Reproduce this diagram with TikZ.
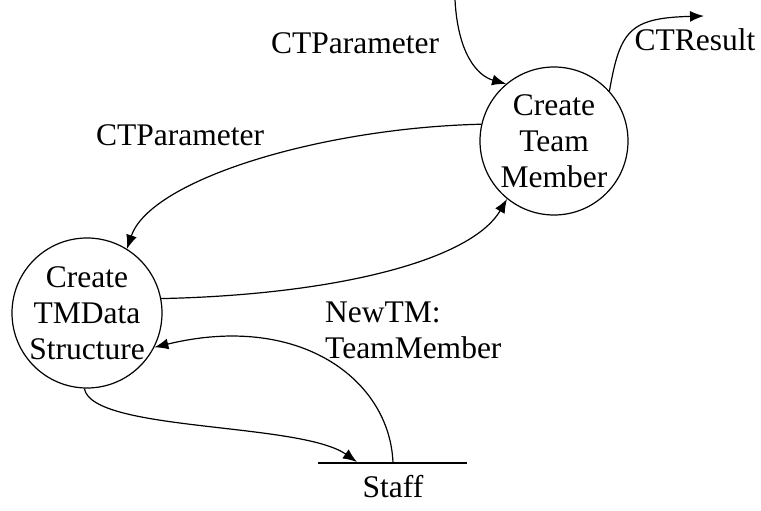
\documentclass[tikz,border=0pt]{standalone}
\usepackage{fontspec}
\setmainfont{Liberation Serif}
\usetikzlibrary{arrows.meta}
\begin{document}
\begin{tikzpicture}[x=1pt,y=-1pt,
  every node/.style={font=\fontsize{31.5}{36}\selectfont},
  proc/.style={draw,circle,line width=1.2pt,minimum size=148pt,inner sep=0pt,align=center},
  flow/.style={line width=1.2pt,-{Latex[length=14pt,width=11pt]}},
  lbl/.style={inner sep=0pt,align=left}]
\useasboundingbox (0,0) rectangle (761,511);
\node[proc] (tm) at (554,141) {Create\\Team\\Member};
\node[proc,minimum size=150pt] (td) at (87,313) {Create\\TMData\\Structure};
\coordinate (s1) at (318,463);
\coordinate (s2) at (467,463);
\coordinate (sIn) at (357,462);
\coordinate (sOut) at (393,463);
\coordinate (topIn) at (455,0);
\coordinate (resOut) at (704,16);
\draw[line width=1.2pt] (s1) -- (s2);
\node[inner sep=0pt] (staff) at (393,487) {Staff};
\node[inner sep=0pt] (l1) at (355,43) {CTParameter};
\node[inner sep=0pt] (l2) at (695,40) {CTResult};
\node[inner sep=0pt] (l3) at (180,135) {CTParameter};
\node[lbl,anchor=north west] (l4) at (325,302) {NewTM:\\TeamMember};
\draw[flow] (topIn) .. controls (458,55) and (478,76) .. (tm.130);
\draw[flow] (tm.42) .. controls (620,30) and (630,18) .. (resOut);
\draw[flow] (tm.167) .. controls (320,128) and (150,180) .. (td.58);
\draw[flow] (td.11) .. controls (330,295) and (470,262) .. (tm.231);
\draw[flow] (sOut) .. controls (390,380) and (300,312) .. (td.-27);
\draw[flow] (td.268) .. controls (92,432) and (300,422) .. (sIn);
\end{tikzpicture}
\end{document}
